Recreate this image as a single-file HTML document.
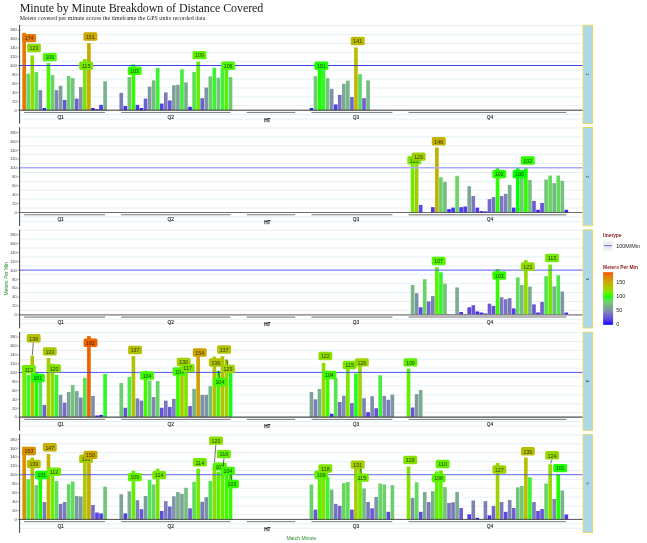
<!DOCTYPE html><html><head><meta charset="utf-8"><title>Minute by Minute Breakdown of Distance Covered</title>
<style>html,body{margin:0;padding:0;background:#fff}svg{display:block}.sans{font-family:"Liberation Sans",sans-serif}.serif{font-family:"Liberation Serif",serif}</style></head><body>
<svg width="647" height="543" viewBox="0 0 647 543">
<rect width="647" height="543" fill="#fff"/>
<text class="serif" x="19.7" y="11.7" font-size="12" fill="#1a1a1a" textLength="243.6" lengthAdjust="spacing">Minute by Minute Breakdown of Distance Covered</text>
<text class="serif" x="19.7" y="20.2" font-size="5.9" fill="#222" textLength="185.6" lengthAdjust="spacing">Meters covered per minute across the timeframe the GPS units recorded data</text>
<text class="sans" transform="translate(8.3 278.8) rotate(-90)" text-anchor="middle" font-size="4.9" fill="#2e8b2e">Meters Per Min</text>
<text class="sans" x="301.4" y="539.5" text-anchor="middle" font-size="5" fill="#2e8b2e">Match Minute</text>
<g>
<line x1="19.6" x2="582.7" y1="119.10" y2="119.10" stroke="#dcecf4" stroke-width="0.8"/>
<line x1="19.6" x2="582.7" y1="114.65" y2="114.65" stroke="#dcecf4" stroke-width="0.8"/>
<line x1="19.6" x2="582.7" y1="105.75" y2="105.75" stroke="#dcecf4" stroke-width="0.8"/>
<line x1="19.6" x2="582.7" y1="96.85" y2="96.85" stroke="#dcecf4" stroke-width="0.8"/>
<line x1="19.6" x2="582.7" y1="87.95" y2="87.95" stroke="#dcecf4" stroke-width="0.8"/>
<line x1="19.6" x2="582.7" y1="79.05" y2="79.05" stroke="#dcecf4" stroke-width="0.8"/>
<line x1="19.6" x2="582.7" y1="70.15" y2="70.15" stroke="#dcecf4" stroke-width="0.8"/>
<line x1="19.6" x2="582.7" y1="61.25" y2="61.25" stroke="#dcecf4" stroke-width="0.8"/>
<line x1="19.6" x2="582.7" y1="52.35" y2="52.35" stroke="#dcecf4" stroke-width="0.8"/>
<line x1="19.6" x2="582.7" y1="43.45" y2="43.45" stroke="#dcecf4" stroke-width="0.8"/>
<line x1="19.6" x2="582.7" y1="34.55" y2="34.55" stroke="#dcecf4" stroke-width="0.8"/>
<line x1="19.6" x2="582.7" y1="25.65" y2="25.65" stroke="#dcecf4" stroke-width="0.8"/>
<rect x="22.35" y="32.77" width="3.64" height="77.43" fill="#e77900"/>
<rect x="26.40" y="73.71" width="3.64" height="36.49" fill="#64d860"/>
<rect x="30.44" y="55.47" width="3.64" height="54.73" fill="#92da00"/>
<rect x="34.49" y="71.93" width="3.64" height="38.27" fill="#5be154"/>
<rect x="38.53" y="90.18" width="3.64" height="20.02" fill="#7d88af"/>
<rect x="42.58" y="107.98" width="3.64" height="2.23" fill="#3621f6"/>
<rect x="46.63" y="63.03" width="3.64" height="47.17" fill="#50f600"/>
<rect x="50.67" y="75.05" width="3.64" height="35.16" fill="#69d268"/>
<rect x="54.72" y="90.18" width="3.64" height="20.02" fill="#7d88af"/>
<rect x="58.76" y="85.72" width="3.64" height="24.48" fill="#7d9e9c"/>
<rect x="62.81" y="99.97" width="3.64" height="10.23" fill="#6956d7"/>
<rect x="66.86" y="75.94" width="3.64" height="34.27" fill="#6cce6d"/>
<rect x="70.90" y="78.16" width="3.64" height="32.04" fill="#73c379"/>
<rect x="74.95" y="98.63" width="3.64" height="11.57" fill="#6e5dd2"/>
<rect x="78.99" y="87.06" width="3.64" height="23.14" fill="#7d98a2"/>
<rect x="83.04" y="59.02" width="3.64" height="51.18" fill="#7ae700"/>
<rect x="87.09" y="43.00" width="3.64" height="67.20" fill="#caa900"/>
<rect x="91.13" y="107.98" width="3.64" height="2.23" fill="#3621f6"/>
<rect x="95.18" y="109.31" width="3.64" height="0.89" fill="#2111fc"/>
<rect x="99.22" y="104.86" width="3.64" height="5.34" fill="#5139ea"/>
<rect x="103.27" y="81.28" width="3.64" height="28.93" fill="#79b488"/>
<rect x="119.45" y="92.84" width="3.64" height="17.36" fill="#7a7bba"/>
<rect x="123.50" y="105.97" width="3.64" height="4.23" fill="#4a31ee"/>
<rect x="127.55" y="77.05" width="3.64" height="33.15" fill="#70c873"/>
<rect x="131.59" y="64.37" width="3.64" height="45.84" fill="#38fa00"/>
<rect x="135.64" y="104.86" width="3.64" height="5.34" fill="#5139ea"/>
<rect x="139.68" y="107.98" width="3.64" height="2.23" fill="#3621f6"/>
<rect x="143.73" y="98.63" width="3.64" height="11.57" fill="#6e5dd2"/>
<rect x="147.78" y="86.62" width="3.64" height="23.59" fill="#7d9aa0"/>
<rect x="151.82" y="80.39" width="3.64" height="29.82" fill="#78b884"/>
<rect x="155.87" y="67.93" width="3.64" height="42.27" fill="#39f431"/>
<rect x="159.91" y="103.53" width="3.64" height="6.67" fill="#5941e5"/>
<rect x="163.96" y="92.40" width="3.64" height="17.80" fill="#7a7db9"/>
<rect x="168.01" y="100.41" width="3.64" height="9.79" fill="#6854d9"/>
<rect x="172.05" y="85.28" width="3.64" height="24.92" fill="#7da09a"/>
<rect x="176.10" y="84.84" width="3.64" height="25.37" fill="#7da398"/>
<rect x="180.14" y="69.26" width="3.64" height="40.94" fill="#47ee3f"/>
<rect x="184.19" y="82.39" width="3.64" height="27.81" fill="#7bae8d"/>
<rect x="188.24" y="106.86" width="3.64" height="3.34" fill="#422af2"/>
<rect x="192.28" y="71.93" width="3.64" height="38.27" fill="#5be154"/>
<rect x="196.33" y="61.70" width="3.64" height="48.51" fill="#60f100"/>
<rect x="200.37" y="98.19" width="3.64" height="12.02" fill="#6f60d0"/>
<rect x="204.42" y="87.50" width="3.64" height="22.70" fill="#7d96a4"/>
<rect x="208.47" y="76.38" width="3.64" height="33.82" fill="#6ecb6f"/>
<rect x="212.51" y="67.70" width="3.64" height="42.50" fill="#36f52e"/>
<rect x="216.56" y="77.72" width="3.64" height="32.48" fill="#72c577"/>
<rect x="220.60" y="69.04" width="3.64" height="41.16" fill="#45ef3d"/>
<rect x="224.65" y="63.03" width="3.64" height="47.17" fill="#50f600"/>
<rect x="228.70" y="77.05" width="3.64" height="33.15" fill="#70c873"/>
<rect x="309.62" y="107.98" width="3.64" height="2.23" fill="#3621f6"/>
<rect x="313.66" y="76.16" width="3.64" height="34.04" fill="#6dcd6e"/>
<rect x="317.71" y="65.25" width="4.10" height="44.95" fill="#1ffd00"/>
<rect x="321.75" y="67.48" width="3.64" height="42.72" fill="#33f62b"/>
<rect x="325.80" y="78.16" width="3.64" height="32.04" fill="#73c379"/>
<rect x="329.85" y="88.84" width="3.64" height="21.36" fill="#7d8faa"/>
<rect x="333.89" y="104.42" width="3.64" height="5.79" fill="#543ce8"/>
<rect x="337.94" y="94.85" width="3.64" height="15.35" fill="#7771c2"/>
<rect x="341.98" y="83.72" width="3.64" height="26.48" fill="#7ca894"/>
<rect x="346.03" y="80.61" width="3.64" height="29.59" fill="#78b785"/>
<rect x="350.08" y="97.07" width="3.64" height="13.13" fill="#7266cb"/>
<rect x="354.12" y="47.46" width="3.64" height="62.74" fill="#babb00"/>
<rect x="358.17" y="74.16" width="3.64" height="36.05" fill="#66d663"/>
<rect x="362.21" y="98.19" width="3.64" height="12.02" fill="#6f60d0"/>
<rect x="366.26" y="80.39" width="3.64" height="29.82" fill="#78b884"/>
<line x1="19.6" x2="582.7" y1="65.50" y2="65.50" stroke="#3843f2" stroke-width="1.0"/>
<line x1="19.6" x2="582.7" y1="110.20" y2="110.20" stroke="#2a2a2a" stroke-width="0.95"/>
<line x1="24.17" x2="105.09" y1="112.45" y2="112.45" stroke="#444" stroke-width="0.7"/>
<text class="sans" x="60.58" y="119.12" text-anchor="middle" font-size="4.8" fill="#1a1a1a" stroke="#1a1a1a" stroke-width="0.12">Q1</text>
<line x1="121.27" x2="230.52" y1="112.45" y2="112.45" stroke="#444" stroke-width="0.7"/>
<text class="sans" x="170.64" y="119.12" text-anchor="middle" font-size="4.8" fill="#1a1a1a" stroke="#1a1a1a" stroke-width="0.12">Q2</text>
<line x1="246.70" x2="295.25" y1="112.45" y2="112.45" stroke="#444" stroke-width="0.7"/>
<text class="sans" x="267.33" y="121.52" text-anchor="middle" font-size="4.8" fill="#1a1a1a" stroke="#1a1a1a" stroke-width="0.25">HT</text>
<line x1="311.44" x2="392.36" y1="112.45" y2="112.45" stroke="#444" stroke-width="0.7"/>
<text class="sans" x="355.94" y="119.12" text-anchor="middle" font-size="4.8" fill="#1a1a1a" stroke="#1a1a1a" stroke-width="0.12">Q3</text>
<line x1="408.54" x2="566.33" y1="112.45" y2="112.45" stroke="#444" stroke-width="0.7"/>
<text class="sans" x="489.86" y="119.12" text-anchor="middle" font-size="4.8" fill="#1a1a1a" stroke="#1a1a1a" stroke-width="0.12">Q4</text>
<rect x="22.25" y="33.90" width="13.9" height="8.4" rx="1.6" fill="#e77900"/>
<text class="sans" x="29.20" y="40.40" text-anchor="middle" font-size="5.9" textLength="8.8" lengthAdjust="spacingAndGlyphs" fill="#000" fill-opacity="0.72">174</text>
<rect x="27.00" y="43.75" width="13.9" height="8.4" rx="1.6" fill="#92da00"/>
<text class="sans" x="33.95" y="50.25" text-anchor="middle" font-size="5.9" textLength="8.8" lengthAdjust="spacingAndGlyphs" fill="#000" fill-opacity="0.72">123</text>
<rect x="42.85" y="52.95" width="13.9" height="8.4" rx="1.6" fill="#50f600"/>
<text class="sans" x="49.80" y="59.45" text-anchor="middle" font-size="5.9" textLength="8.8" lengthAdjust="spacingAndGlyphs" fill="#000" fill-opacity="0.72">106</text>
<rect x="79.15" y="61.55" width="13.9" height="8.4" rx="1.6" fill="#7ae700"/>
<text class="sans" x="86.10" y="68.05" text-anchor="middle" font-size="5.9" textLength="8.8" lengthAdjust="spacingAndGlyphs" fill="#000" fill-opacity="0.72">115</text>
<rect x="83.40" y="32.35" width="13.9" height="8.4" rx="1.6" fill="#caa900"/>
<text class="sans" x="90.35" y="38.85" text-anchor="middle" font-size="5.9" textLength="8.8" lengthAdjust="spacingAndGlyphs" fill="#000" fill-opacity="0.72">151</text>
<rect x="127.70" y="66.55" width="13.9" height="8.4" rx="1.6" fill="#38fa00"/>
<text class="sans" x="134.65" y="73.05" text-anchor="middle" font-size="5.9" textLength="8.8" lengthAdjust="spacingAndGlyphs" fill="#000" fill-opacity="0.72">103</text>
<rect x="192.55" y="50.95" width="13.9" height="8.4" rx="1.6" fill="#60f100"/>
<text class="sans" x="199.50" y="57.45" text-anchor="middle" font-size="5.9" textLength="8.8" lengthAdjust="spacingAndGlyphs" fill="#000" fill-opacity="0.72">109</text>
<rect x="221.20" y="61.55" width="13.9" height="8.4" rx="1.6" fill="#50f600"/>
<text class="sans" x="228.15" y="68.05" text-anchor="middle" font-size="5.9" textLength="8.8" lengthAdjust="spacingAndGlyphs" fill="#000" fill-opacity="0.72">106</text>
<rect x="314.35" y="61.55" width="13.9" height="8.4" rx="1.6" fill="#1ffd00"/>
<text class="sans" x="321.30" y="68.05" text-anchor="middle" font-size="5.9" textLength="8.8" lengthAdjust="spacingAndGlyphs" fill="#000" fill-opacity="0.72">101</text>
<rect x="350.80" y="36.85" width="13.9" height="8.4" rx="1.6" fill="#babb00"/>
<text class="sans" x="357.75" y="43.35" text-anchor="middle" font-size="5.9" textLength="8.8" lengthAdjust="spacingAndGlyphs" fill="#000" fill-opacity="0.72">141</text>
<line x1="19.6" x2="19.6" y1="24.90" y2="123.70" stroke="#2b2b2b" stroke-width="0.9"/>
<line x1="17.700000000000003" x2="19.6" y1="110.20" y2="110.20" stroke="#333" stroke-width="0.5"/>
<text class="sans" x="16.900000000000002" y="111.55" text-anchor="end" font-size="4.1" fill="#3d3d3d">0</text>
<line x1="17.700000000000003" x2="19.6" y1="101.30" y2="101.30" stroke="#333" stroke-width="0.5"/>
<text class="sans" x="16.900000000000002" y="102.65" text-anchor="end" font-size="4.1" fill="#3d3d3d">20</text>
<line x1="17.700000000000003" x2="19.6" y1="92.40" y2="92.40" stroke="#333" stroke-width="0.5"/>
<text class="sans" x="16.900000000000002" y="93.75" text-anchor="end" font-size="4.1" fill="#3d3d3d">40</text>
<line x1="17.700000000000003" x2="19.6" y1="83.50" y2="83.50" stroke="#333" stroke-width="0.5"/>
<text class="sans" x="16.900000000000002" y="84.85" text-anchor="end" font-size="4.1" fill="#3d3d3d">60</text>
<line x1="17.700000000000003" x2="19.6" y1="74.60" y2="74.60" stroke="#333" stroke-width="0.5"/>
<text class="sans" x="16.900000000000002" y="75.95" text-anchor="end" font-size="4.1" fill="#3d3d3d">80</text>
<line x1="17.700000000000003" x2="19.6" y1="65.70" y2="65.70" stroke="#333" stroke-width="0.5"/>
<text class="sans" x="16.900000000000002" y="67.05" text-anchor="end" font-size="4.1" fill="#3d3d3d">100</text>
<line x1="17.700000000000003" x2="19.6" y1="56.80" y2="56.80" stroke="#333" stroke-width="0.5"/>
<text class="sans" x="16.900000000000002" y="58.15" text-anchor="end" font-size="4.1" fill="#3d3d3d">120</text>
<line x1="17.700000000000003" x2="19.6" y1="47.90" y2="47.90" stroke="#333" stroke-width="0.5"/>
<text class="sans" x="16.900000000000002" y="49.25" text-anchor="end" font-size="4.1" fill="#3d3d3d">140</text>
<line x1="17.700000000000003" x2="19.6" y1="39.00" y2="39.00" stroke="#333" stroke-width="0.5"/>
<text class="sans" x="16.900000000000002" y="40.35" text-anchor="end" font-size="4.1" fill="#3d3d3d">160</text>
<line x1="17.700000000000003" x2="19.6" y1="30.10" y2="30.10" stroke="#333" stroke-width="0.5"/>
<text class="sans" x="16.900000000000002" y="31.45" text-anchor="end" font-size="4.1" fill="#3d3d3d">180</text>
<rect x="583.1" y="25.20" width="9.6" height="98.20" fill="#add8e6" stroke="#ecd352" stroke-width="0.85"/>
<text class="sans" transform="translate(586.4 74.30) rotate(90)" text-anchor="middle" font-size="3.6" fill="#000">1</text>
</g>
<g>
<line x1="19.6" x2="582.7" y1="221.40" y2="221.40" stroke="#dcecf4" stroke-width="0.8"/>
<line x1="19.6" x2="582.7" y1="216.95" y2="216.95" stroke="#dcecf4" stroke-width="0.8"/>
<line x1="19.6" x2="582.7" y1="208.05" y2="208.05" stroke="#dcecf4" stroke-width="0.8"/>
<line x1="19.6" x2="582.7" y1="199.15" y2="199.15" stroke="#dcecf4" stroke-width="0.8"/>
<line x1="19.6" x2="582.7" y1="190.25" y2="190.25" stroke="#dcecf4" stroke-width="0.8"/>
<line x1="19.6" x2="582.7" y1="181.35" y2="181.35" stroke="#dcecf4" stroke-width="0.8"/>
<line x1="19.6" x2="582.7" y1="172.45" y2="172.45" stroke="#dcecf4" stroke-width="0.8"/>
<line x1="19.6" x2="582.7" y1="163.55" y2="163.55" stroke="#dcecf4" stroke-width="0.8"/>
<line x1="19.6" x2="582.7" y1="154.65" y2="154.65" stroke="#dcecf4" stroke-width="0.8"/>
<line x1="19.6" x2="582.7" y1="145.75" y2="145.75" stroke="#dcecf4" stroke-width="0.8"/>
<line x1="19.6" x2="582.7" y1="136.85" y2="136.85" stroke="#dcecf4" stroke-width="0.8"/>
<line x1="19.6" x2="582.7" y1="127.95" y2="127.95" stroke="#dcecf4" stroke-width="0.8"/>
<rect x="410.77" y="162.22" width="3.64" height="50.29" fill="#72ea00"/>
<rect x="414.81" y="155.09" width="3.64" height="57.41" fill="#a1d000"/>
<rect x="418.86" y="204.94" width="3.64" height="7.57" fill="#5e47e1"/>
<rect x="431.00" y="207.16" width="3.64" height="5.34" fill="#5139ea"/>
<rect x="435.04" y="147.53" width="3.64" height="64.97" fill="#c2b200"/>
<rect x="439.09" y="177.34" width="3.64" height="35.16" fill="#69d268"/>
<rect x="443.13" y="181.79" width="3.64" height="30.71" fill="#76bc80"/>
<rect x="447.18" y="209.16" width="3.64" height="3.34" fill="#422af2"/>
<rect x="451.23" y="207.60" width="3.64" height="4.90" fill="#4e36ec"/>
<rect x="455.27" y="175.79" width="3.64" height="36.71" fill="#63d95f"/>
<rect x="459.32" y="207.16" width="3.64" height="5.34" fill="#5139ea"/>
<rect x="463.36" y="206.49" width="3.64" height="6.01" fill="#563de8"/>
<rect x="467.41" y="186.25" width="3.64" height="26.25" fill="#7ca795"/>
<rect x="471.46" y="196.03" width="3.64" height="16.46" fill="#7977be"/>
<rect x="475.50" y="207.60" width="3.64" height="4.90" fill="#4e36ec"/>
<rect x="479.55" y="211.16" width="3.64" height="1.33" fill="#2a17fa"/>
<rect x="483.59" y="211.39" width="3.64" height="1.11" fill="#2614fb"/>
<rect x="487.64" y="199.15" width="3.64" height="13.35" fill="#7267cb"/>
<rect x="491.69" y="197.15" width="3.64" height="15.35" fill="#7771c2"/>
<rect x="495.73" y="167.11" width="3.64" height="45.39" fill="#2efc00"/>
<rect x="499.78" y="196.03" width="3.64" height="16.46" fill="#7977be"/>
<rect x="503.82" y="193.81" width="3.64" height="18.69" fill="#7b82b5"/>
<rect x="507.87" y="184.91" width="3.64" height="27.59" fill="#7bad8e"/>
<rect x="511.92" y="207.60" width="3.64" height="4.90" fill="#4e36ec"/>
<rect x="515.96" y="168.00" width="3.64" height="44.50" fill="#00ff00"/>
<rect x="520.01" y="177.79" width="3.64" height="34.71" fill="#6bd06b"/>
<rect x="524.05" y="167.11" width="3.64" height="45.39" fill="#2efc00"/>
<rect x="528.10" y="180.01" width="3.64" height="32.48" fill="#72c577"/>
<rect x="532.15" y="200.93" width="3.64" height="11.57" fill="#6e5dd2"/>
<rect x="536.19" y="209.83" width="3.64" height="2.67" fill="#3b25f5"/>
<rect x="540.24" y="202.93" width="3.64" height="9.57" fill="#6752da"/>
<rect x="544.28" y="179.57" width="3.64" height="32.93" fill="#70c774"/>
<rect x="548.33" y="175.56" width="3.64" height="36.94" fill="#62da5d"/>
<rect x="552.38" y="183.13" width="3.64" height="29.37" fill="#78b686"/>
<rect x="556.42" y="175.56" width="3.64" height="36.94" fill="#62da5d"/>
<rect x="560.47" y="180.91" width="3.64" height="31.59" fill="#74c17b"/>
<rect x="564.51" y="209.83" width="3.64" height="2.67" fill="#3b25f5"/>
<line x1="19.6" x2="582.7" y1="167.80" y2="167.80" stroke="#a8acfb" stroke-width="1.5"/>
<line x1="19.6" x2="582.7" y1="212.50" y2="212.50" stroke="#2a2a30" stroke-width="0.7"/>
<line x1="24.17" x2="105.09" y1="214.75" y2="214.75" stroke="#555" stroke-width="0.8"/>
<text class="sans" x="60.58" y="221.42" text-anchor="middle" font-size="4.8" fill="#1a1a1a" stroke="#1a1a1a" stroke-width="0.12">Q1</text>
<line x1="121.27" x2="230.52" y1="214.75" y2="214.75" stroke="#555" stroke-width="0.8"/>
<text class="sans" x="170.64" y="221.42" text-anchor="middle" font-size="4.8" fill="#1a1a1a" stroke="#1a1a1a" stroke-width="0.12">Q2</text>
<line x1="246.70" x2="295.25" y1="214.75" y2="214.75" stroke="#555" stroke-width="0.8"/>
<text class="sans" x="267.33" y="223.82" text-anchor="middle" font-size="4.8" fill="#1a1a1a" stroke="#1a1a1a" stroke-width="0.25">HT</text>
<line x1="311.44" x2="392.36" y1="214.75" y2="214.75" stroke="#555" stroke-width="0.8"/>
<text class="sans" x="355.94" y="221.42" text-anchor="middle" font-size="4.8" fill="#1a1a1a" stroke="#1a1a1a" stroke-width="0.12">Q3</text>
<line x1="408.54" x2="566.33" y1="214.75" y2="214.75" stroke="#9a9a9a" stroke-width="1.5"/>
<text class="sans" x="489.86" y="221.42" text-anchor="middle" font-size="4.8" fill="#1a1a1a" stroke="#1a1a1a" stroke-width="0.12">Q4</text>
<rect x="407.30" y="156.05" width="13.9" height="8.4" rx="1.6" fill="#7ae700"/>
<text class="sans" x="414.25" y="162.55" text-anchor="middle" font-size="5.9" textLength="8.8" lengthAdjust="spacingAndGlyphs" fill="#000" fill-opacity="0.72">115</text>
<rect x="411.65" y="152.45" width="13.9" height="8.4" rx="1.6" fill="#a1d000"/>
<text class="sans" x="418.60" y="158.95" text-anchor="middle" font-size="5.9" textLength="8.8" lengthAdjust="spacingAndGlyphs" fill="#000" fill-opacity="0.72">129</text>
<rect x="431.80" y="137.10" width="13.9" height="8.4" rx="1.6" fill="#c2b200"/>
<text class="sans" x="438.75" y="143.60" text-anchor="middle" font-size="5.9" textLength="8.8" lengthAdjust="spacingAndGlyphs" fill="#000" fill-opacity="0.72">146</text>
<rect x="492.30" y="169.95" width="13.9" height="8.4" rx="1.6" fill="#2efc00"/>
<text class="sans" x="499.25" y="176.45" text-anchor="middle" font-size="5.9" textLength="8.8" lengthAdjust="spacingAndGlyphs" fill="#000" fill-opacity="0.72">102</text>
<rect x="512.70" y="169.95" width="13.9" height="8.4" rx="1.6" fill="#00ff00"/>
<text class="sans" x="519.65" y="176.45" text-anchor="middle" font-size="5.9" textLength="8.8" lengthAdjust="spacingAndGlyphs" fill="#000" fill-opacity="0.72">100</text>
<rect x="520.80" y="156.35" width="13.9" height="8.4" rx="1.6" fill="#2efc00"/>
<text class="sans" x="527.75" y="162.85" text-anchor="middle" font-size="5.9" textLength="8.8" lengthAdjust="spacingAndGlyphs" fill="#000" fill-opacity="0.72">102</text>
<line x1="19.6" x2="19.6" y1="127.20" y2="226.00" stroke="#2b2b2b" stroke-width="0.9"/>
<line x1="17.700000000000003" x2="19.6" y1="212.50" y2="212.50" stroke="#333" stroke-width="0.5"/>
<text class="sans" x="16.900000000000002" y="213.85" text-anchor="end" font-size="4.1" fill="#3d3d3d">0</text>
<line x1="17.700000000000003" x2="19.6" y1="203.60" y2="203.60" stroke="#333" stroke-width="0.5"/>
<text class="sans" x="16.900000000000002" y="204.95" text-anchor="end" font-size="4.1" fill="#3d3d3d">20</text>
<line x1="17.700000000000003" x2="19.6" y1="194.70" y2="194.70" stroke="#333" stroke-width="0.5"/>
<text class="sans" x="16.900000000000002" y="196.05" text-anchor="end" font-size="4.1" fill="#3d3d3d">40</text>
<line x1="17.700000000000003" x2="19.6" y1="185.80" y2="185.80" stroke="#333" stroke-width="0.5"/>
<text class="sans" x="16.900000000000002" y="187.15" text-anchor="end" font-size="4.1" fill="#3d3d3d">60</text>
<line x1="17.700000000000003" x2="19.6" y1="176.90" y2="176.90" stroke="#333" stroke-width="0.5"/>
<text class="sans" x="16.900000000000002" y="178.25" text-anchor="end" font-size="4.1" fill="#3d3d3d">80</text>
<line x1="17.700000000000003" x2="19.6" y1="168.00" y2="168.00" stroke="#333" stroke-width="0.5"/>
<text class="sans" x="16.900000000000002" y="169.35" text-anchor="end" font-size="4.1" fill="#3d3d3d">100</text>
<line x1="17.700000000000003" x2="19.6" y1="159.10" y2="159.10" stroke="#333" stroke-width="0.5"/>
<text class="sans" x="16.900000000000002" y="160.45" text-anchor="end" font-size="4.1" fill="#3d3d3d">120</text>
<line x1="17.700000000000003" x2="19.6" y1="150.20" y2="150.20" stroke="#333" stroke-width="0.5"/>
<text class="sans" x="16.900000000000002" y="151.55" text-anchor="end" font-size="4.1" fill="#3d3d3d">140</text>
<line x1="17.700000000000003" x2="19.6" y1="141.30" y2="141.30" stroke="#333" stroke-width="0.5"/>
<text class="sans" x="16.900000000000002" y="142.65" text-anchor="end" font-size="4.1" fill="#3d3d3d">160</text>
<line x1="17.700000000000003" x2="19.6" y1="132.40" y2="132.40" stroke="#333" stroke-width="0.5"/>
<text class="sans" x="16.900000000000002" y="133.75" text-anchor="end" font-size="4.1" fill="#3d3d3d">180</text>
<rect x="583.1" y="127.50" width="9.6" height="98.20" fill="#add8e6" stroke="#ecd352" stroke-width="0.85"/>
<text class="sans" transform="translate(586.4 176.60) rotate(90)" text-anchor="middle" font-size="3.6" fill="#000">2</text>
</g>
<g>
<line x1="19.6" x2="582.7" y1="323.70" y2="323.70" stroke="#dcecf4" stroke-width="0.8"/>
<line x1="19.6" x2="582.7" y1="319.25" y2="319.25" stroke="#dcecf4" stroke-width="0.8"/>
<line x1="19.6" x2="582.7" y1="310.35" y2="310.35" stroke="#dcecf4" stroke-width="0.8"/>
<line x1="19.6" x2="582.7" y1="301.45" y2="301.45" stroke="#dcecf4" stroke-width="0.8"/>
<line x1="19.6" x2="582.7" y1="292.55" y2="292.55" stroke="#dcecf4" stroke-width="0.8"/>
<line x1="19.6" x2="582.7" y1="283.65" y2="283.65" stroke="#dcecf4" stroke-width="0.8"/>
<line x1="19.6" x2="582.7" y1="274.75" y2="274.75" stroke="#dcecf4" stroke-width="0.8"/>
<line x1="19.6" x2="582.7" y1="265.85" y2="265.85" stroke="#dcecf4" stroke-width="0.8"/>
<line x1="19.6" x2="582.7" y1="256.95" y2="256.95" stroke="#dcecf4" stroke-width="0.8"/>
<line x1="19.6" x2="582.7" y1="248.05" y2="248.05" stroke="#dcecf4" stroke-width="0.8"/>
<line x1="19.6" x2="582.7" y1="239.15" y2="239.15" stroke="#dcecf4" stroke-width="0.8"/>
<line x1="19.6" x2="582.7" y1="230.25" y2="230.25" stroke="#dcecf4" stroke-width="0.8"/>
<rect x="410.77" y="284.99" width="3.64" height="29.82" fill="#78b884"/>
<rect x="414.81" y="293.22" width="3.64" height="21.58" fill="#7d90a9"/>
<rect x="418.86" y="307.24" width="3.64" height="7.57" fill="#5e47e1"/>
<rect x="422.90" y="279.20" width="3.64" height="35.60" fill="#67d465"/>
<rect x="426.95" y="301.45" width="3.64" height="13.35" fill="#7267cb"/>
<rect x="431.00" y="296.11" width="3.64" height="18.69" fill="#7b82b5"/>
<rect x="435.04" y="267.19" width="3.64" height="47.62" fill="#56f400"/>
<rect x="439.09" y="272.30" width="3.64" height="42.50" fill="#36f52e"/>
<rect x="443.13" y="283.65" width="3.64" height="31.15" fill="#75bf7d"/>
<rect x="447.18" y="314.36" width="3.64" height="0.45" fill="#1509fd"/>
<rect x="455.27" y="287.43" width="3.64" height="27.37" fill="#7bac8f"/>
<rect x="459.32" y="312.13" width="3.64" height="2.67" fill="#3b25f5"/>
<rect x="463.36" y="314.36" width="3.64" height="0.45" fill="#1509fd"/>
<rect x="467.41" y="307.24" width="3.64" height="7.57" fill="#5e47e1"/>
<rect x="471.46" y="305.23" width="3.64" height="9.57" fill="#6752da"/>
<rect x="475.50" y="311.46" width="3.64" height="3.34" fill="#422af2"/>
<rect x="479.55" y="312.57" width="3.64" height="2.23" fill="#3621f6"/>
<rect x="483.59" y="313.47" width="3.64" height="1.33" fill="#2a17fa"/>
<rect x="487.64" y="303.68" width="3.64" height="11.12" fill="#6c5bd3"/>
<rect x="491.69" y="305.90" width="3.64" height="8.90" fill="#644fdc"/>
<rect x="495.73" y="268.97" width="3.64" height="45.84" fill="#38fa00"/>
<rect x="499.78" y="297.22" width="3.64" height="17.58" fill="#7a7cb9"/>
<rect x="503.82" y="299.23" width="3.64" height="15.58" fill="#7772c2"/>
<rect x="507.87" y="298.11" width="3.64" height="16.69" fill="#7978bd"/>
<rect x="511.92" y="308.35" width="3.64" height="6.45" fill="#5840e6"/>
<rect x="515.96" y="277.42" width="3.64" height="37.38" fill="#5fdd5a"/>
<rect x="520.01" y="284.99" width="3.64" height="29.82" fill="#78b884"/>
<rect x="524.05" y="260.06" width="3.64" height="54.73" fill="#92da00"/>
<rect x="528.10" y="286.54" width="3.64" height="28.26" fill="#7ab18b"/>
<rect x="532.15" y="304.34" width="3.64" height="10.46" fill="#6a57d6"/>
<rect x="536.19" y="312.57" width="3.64" height="2.23" fill="#3621f6"/>
<rect x="540.24" y="301.90" width="3.64" height="12.90" fill="#7164cc"/>
<rect x="544.28" y="276.09" width="3.64" height="38.72" fill="#58e351"/>
<rect x="548.33" y="264.51" width="3.64" height="50.29" fill="#72ea00"/>
<rect x="552.38" y="286.32" width="3.64" height="28.48" fill="#7ab28a"/>
<rect x="556.42" y="275.19" width="3.64" height="39.61" fill="#52e74a"/>
<rect x="560.47" y="291.44" width="3.64" height="23.36" fill="#7d99a1"/>
<rect x="564.51" y="312.57" width="3.64" height="2.23" fill="#3621f6"/>
<line x1="19.6" x2="582.7" y1="270.10" y2="270.10" stroke="#555df6" stroke-width="1.0"/>
<line x1="19.6" x2="582.7" y1="314.80" y2="314.80" stroke="#777" stroke-width="1.3"/>
<line x1="24.17" x2="105.09" y1="317.05" y2="317.05" stroke="#8a8a8a" stroke-width="1.2"/>
<text class="sans" x="60.58" y="323.72" text-anchor="middle" font-size="4.8" fill="#1a1a1a" stroke="#1a1a1a" stroke-width="0.12">Q1</text>
<line x1="121.27" x2="230.52" y1="317.05" y2="317.05" stroke="#8a8a8a" stroke-width="1.2"/>
<text class="sans" x="170.64" y="323.72" text-anchor="middle" font-size="4.8" fill="#1a1a1a" stroke="#1a1a1a" stroke-width="0.12">Q2</text>
<line x1="246.70" x2="295.25" y1="317.05" y2="317.05" stroke="#8a8a8a" stroke-width="1.2"/>
<text class="sans" x="267.33" y="326.12" text-anchor="middle" font-size="4.8" fill="#1a1a1a" stroke="#1a1a1a" stroke-width="0.25">HT</text>
<line x1="311.44" x2="392.36" y1="317.05" y2="317.05" stroke="#8a8a8a" stroke-width="1.2"/>
<text class="sans" x="355.94" y="323.72" text-anchor="middle" font-size="4.8" fill="#1a1a1a" stroke="#1a1a1a" stroke-width="0.12">Q3</text>
<line x1="408.54" x2="566.33" y1="317.05" y2="317.05" stroke="#a0a0a0" stroke-width="1.5"/>
<text class="sans" x="489.86" y="323.72" text-anchor="middle" font-size="4.8" fill="#1a1a1a" stroke="#1a1a1a" stroke-width="0.12">Q4</text>
<rect x="431.70" y="256.75" width="13.9" height="8.4" rx="1.6" fill="#56f400"/>
<text class="sans" x="438.65" y="263.25" text-anchor="middle" font-size="5.9" textLength="8.8" lengthAdjust="spacingAndGlyphs" fill="#000" fill-opacity="0.72">107</text>
<rect x="492.30" y="271.30" width="13.9" height="8.4" rx="1.6" fill="#38fa00"/>
<text class="sans" x="499.25" y="277.80" text-anchor="middle" font-size="5.9" textLength="8.8" lengthAdjust="spacingAndGlyphs" fill="#000" fill-opacity="0.72">103</text>
<rect x="520.80" y="262.30" width="13.9" height="8.4" rx="1.6" fill="#92da00"/>
<text class="sans" x="527.75" y="268.80" text-anchor="middle" font-size="5.9" textLength="8.8" lengthAdjust="spacingAndGlyphs" fill="#000" fill-opacity="0.72">123</text>
<rect x="545.10" y="253.75" width="13.9" height="8.4" rx="1.6" fill="#72ea00"/>
<text class="sans" x="552.05" y="260.25" text-anchor="middle" font-size="5.9" textLength="8.8" lengthAdjust="spacingAndGlyphs" fill="#000" fill-opacity="0.72">113</text>
<line x1="19.6" x2="19.6" y1="229.50" y2="328.30" stroke="#2b2b2b" stroke-width="0.9"/>
<line x1="17.700000000000003" x2="19.6" y1="314.80" y2="314.80" stroke="#333" stroke-width="0.5"/>
<text class="sans" x="16.900000000000002" y="316.15" text-anchor="end" font-size="4.1" fill="#3d3d3d">0</text>
<line x1="17.700000000000003" x2="19.6" y1="305.90" y2="305.90" stroke="#333" stroke-width="0.5"/>
<text class="sans" x="16.900000000000002" y="307.25" text-anchor="end" font-size="4.1" fill="#3d3d3d">20</text>
<line x1="17.700000000000003" x2="19.6" y1="297.00" y2="297.00" stroke="#333" stroke-width="0.5"/>
<text class="sans" x="16.900000000000002" y="298.35" text-anchor="end" font-size="4.1" fill="#3d3d3d">40</text>
<line x1="17.700000000000003" x2="19.6" y1="288.10" y2="288.10" stroke="#333" stroke-width="0.5"/>
<text class="sans" x="16.900000000000002" y="289.45" text-anchor="end" font-size="4.1" fill="#3d3d3d">60</text>
<line x1="17.700000000000003" x2="19.6" y1="279.20" y2="279.20" stroke="#333" stroke-width="0.5"/>
<text class="sans" x="16.900000000000002" y="280.55" text-anchor="end" font-size="4.1" fill="#3d3d3d">80</text>
<line x1="17.700000000000003" x2="19.6" y1="270.30" y2="270.30" stroke="#333" stroke-width="0.5"/>
<text class="sans" x="16.900000000000002" y="271.65" text-anchor="end" font-size="4.1" fill="#3d3d3d">100</text>
<line x1="17.700000000000003" x2="19.6" y1="261.40" y2="261.40" stroke="#333" stroke-width="0.5"/>
<text class="sans" x="16.900000000000002" y="262.75" text-anchor="end" font-size="4.1" fill="#3d3d3d">120</text>
<line x1="17.700000000000003" x2="19.6" y1="252.50" y2="252.50" stroke="#333" stroke-width="0.5"/>
<text class="sans" x="16.900000000000002" y="253.85" text-anchor="end" font-size="4.1" fill="#3d3d3d">140</text>
<line x1="17.700000000000003" x2="19.6" y1="243.60" y2="243.60" stroke="#333" stroke-width="0.5"/>
<text class="sans" x="16.900000000000002" y="244.95" text-anchor="end" font-size="4.1" fill="#3d3d3d">160</text>
<line x1="17.700000000000003" x2="19.6" y1="234.70" y2="234.70" stroke="#333" stroke-width="0.5"/>
<text class="sans" x="16.900000000000002" y="236.05" text-anchor="end" font-size="4.1" fill="#3d3d3d">180</text>
<rect x="583.1" y="229.80" width="9.6" height="98.20" fill="#add8e6" stroke="#ecd352" stroke-width="0.85"/>
<text class="sans" transform="translate(586.4 278.90) rotate(90)" text-anchor="middle" font-size="3.6" fill="#000">3</text>
</g>
<g>
<line x1="19.6" x2="582.7" y1="426.00" y2="426.00" stroke="#dcecf4" stroke-width="0.8"/>
<line x1="19.6" x2="582.7" y1="421.55" y2="421.55" stroke="#dcecf4" stroke-width="0.8"/>
<line x1="19.6" x2="582.7" y1="412.65" y2="412.65" stroke="#dcecf4" stroke-width="0.8"/>
<line x1="19.6" x2="582.7" y1="403.75" y2="403.75" stroke="#dcecf4" stroke-width="0.8"/>
<line x1="19.6" x2="582.7" y1="394.85" y2="394.85" stroke="#dcecf4" stroke-width="0.8"/>
<line x1="19.6" x2="582.7" y1="385.95" y2="385.95" stroke="#dcecf4" stroke-width="0.8"/>
<line x1="19.6" x2="582.7" y1="377.05" y2="377.05" stroke="#dcecf4" stroke-width="0.8"/>
<line x1="19.6" x2="582.7" y1="368.15" y2="368.15" stroke="#dcecf4" stroke-width="0.8"/>
<line x1="19.6" x2="582.7" y1="359.25" y2="359.25" stroke="#dcecf4" stroke-width="0.8"/>
<line x1="19.6" x2="582.7" y1="350.35" y2="350.35" stroke="#dcecf4" stroke-width="0.8"/>
<line x1="19.6" x2="582.7" y1="341.45" y2="341.45" stroke="#dcecf4" stroke-width="0.8"/>
<line x1="19.6" x2="582.7" y1="332.55" y2="332.55" stroke="#dcecf4" stroke-width="0.8"/>
<rect x="22.35" y="366.81" width="3.64" height="50.29" fill="#72ea00"/>
<rect x="26.40" y="374.82" width="3.64" height="42.27" fill="#39f431"/>
<rect x="30.44" y="355.69" width="3.64" height="61.41" fill="#b4c100"/>
<rect x="34.49" y="372.15" width="3.64" height="44.95" fill="#1ffd00"/>
<rect x="38.53" y="379.27" width="3.64" height="37.83" fill="#5ddf57"/>
<rect x="42.58" y="405.08" width="3.64" height="12.02" fill="#6f60d0"/>
<rect x="46.63" y="357.91" width="3.64" height="59.19" fill="#aac900"/>
<rect x="50.67" y="363.70" width="3.64" height="53.40" fill="#8adf00"/>
<rect x="54.72" y="374.82" width="3.64" height="42.27" fill="#39f431"/>
<rect x="58.76" y="394.85" width="3.64" height="22.25" fill="#7d93a6"/>
<rect x="62.81" y="402.64" width="3.64" height="14.46" fill="#756cc6"/>
<rect x="66.86" y="391.96" width="3.64" height="25.14" fill="#7da299"/>
<rect x="70.90" y="385.06" width="3.64" height="32.04" fill="#73c379"/>
<rect x="74.95" y="391.07" width="3.64" height="26.03" fill="#7ca696"/>
<rect x="78.99" y="397.52" width="3.64" height="19.58" fill="#7c86b1"/>
<rect x="83.04" y="377.94" width="3.64" height="39.16" fill="#55e54e"/>
<rect x="87.09" y="336.11" width="3.64" height="80.99" fill="#ef6400"/>
<rect x="91.13" y="395.96" width="3.64" height="21.14" fill="#7d8eab"/>
<rect x="95.18" y="415.54" width="3.64" height="1.56" fill="#2d1af9"/>
<rect x="99.22" y="414.87" width="3.64" height="2.23" fill="#3621f6"/>
<rect x="103.27" y="373.93" width="3.64" height="43.16" fill="#2cf925"/>
<rect x="119.45" y="383.06" width="3.64" height="34.04" fill="#6dcd6e"/>
<rect x="123.50" y="407.75" width="3.64" height="9.35" fill="#6651da"/>
<rect x="127.55" y="376.83" width="3.64" height="40.27" fill="#4deb45"/>
<rect x="131.59" y="356.13" width="3.64" height="60.97" fill="#b2c200"/>
<rect x="135.64" y="398.41" width="3.64" height="18.69" fill="#7b82b5"/>
<rect x="139.68" y="400.63" width="3.64" height="16.46" fill="#7977be"/>
<rect x="143.73" y="370.82" width="3.64" height="46.28" fill="#41f900"/>
<rect x="147.78" y="380.61" width="3.64" height="36.49" fill="#64d860"/>
<rect x="151.82" y="397.07" width="3.64" height="20.02" fill="#7d88af"/>
<rect x="155.87" y="381.05" width="3.64" height="36.05" fill="#66d663"/>
<rect x="159.91" y="407.75" width="3.64" height="9.35" fill="#6651da"/>
<rect x="163.96" y="400.63" width="3.64" height="16.46" fill="#7977be"/>
<rect x="168.01" y="406.86" width="3.64" height="10.23" fill="#6956d7"/>
<rect x="172.05" y="398.85" width="3.64" height="18.25" fill="#7b80b7"/>
<rect x="176.10" y="370.82" width="3.64" height="46.28" fill="#41f900"/>
<rect x="180.14" y="359.25" width="3.64" height="57.85" fill="#a4ce00"/>
<rect x="184.19" y="365.03" width="3.64" height="52.06" fill="#81e400"/>
<rect x="188.24" y="405.97" width="3.64" height="11.12" fill="#6c5bd3"/>
<rect x="192.28" y="388.84" width="3.64" height="28.26" fill="#7ab18b"/>
<rect x="196.33" y="348.57" width="3.64" height="68.53" fill="#cea300"/>
<rect x="200.37" y="394.85" width="3.64" height="22.25" fill="#7d93a6"/>
<rect x="204.42" y="394.85" width="3.64" height="22.25" fill="#7d93a6"/>
<rect x="208.47" y="386.17" width="3.64" height="30.93" fill="#75bd7f"/>
<rect x="212.51" y="356.58" width="3.64" height="60.52" fill="#b0c400"/>
<rect x="216.56" y="370.82" width="3.64" height="46.28" fill="#41f900"/>
<rect x="220.60" y="356.13" width="3.64" height="60.97" fill="#b2c200"/>
<rect x="224.65" y="359.69" width="3.64" height="57.41" fill="#a1d000"/>
<rect x="228.70" y="373.04" width="3.64" height="44.05" fill="#17fd12"/>
<rect x="309.62" y="391.96" width="3.64" height="25.14" fill="#7da299"/>
<rect x="313.66" y="399.30" width="3.64" height="17.80" fill="#7a7db9"/>
<rect x="317.71" y="388.84" width="3.64" height="28.26" fill="#7ab18b"/>
<rect x="321.75" y="362.81" width="3.64" height="54.29" fill="#90dc00"/>
<rect x="325.80" y="370.82" width="3.64" height="46.28" fill="#41f900"/>
<rect x="329.85" y="413.76" width="3.64" height="3.34" fill="#422af2"/>
<rect x="333.89" y="377.94" width="3.64" height="39.16" fill="#55e54e"/>
<rect x="337.94" y="401.97" width="3.64" height="15.13" fill="#7670c3"/>
<rect x="341.98" y="395.74" width="3.64" height="21.36" fill="#7d8faa"/>
<rect x="346.03" y="365.92" width="3.64" height="51.18" fill="#7ae700"/>
<rect x="350.08" y="403.08" width="3.64" height="14.02" fill="#746ac8"/>
<rect x="354.12" y="373.49" width="3.64" height="43.61" fill="#23fb1d"/>
<rect x="358.17" y="361.03" width="3.64" height="56.07" fill="#9ad500"/>
<rect x="362.21" y="398.19" width="3.64" height="18.91" fill="#7c83b4"/>
<rect x="366.26" y="412.20" width="3.64" height="4.90" fill="#4e36ec"/>
<rect x="370.31" y="396.18" width="3.64" height="20.91" fill="#7d8dac"/>
<rect x="374.35" y="408.20" width="3.64" height="8.90" fill="#644fdc"/>
<rect x="378.40" y="375.27" width="3.64" height="41.83" fill="#3ff236"/>
<rect x="382.44" y="395.96" width="3.64" height="21.14" fill="#7d8eab"/>
<rect x="386.49" y="399.74" width="3.64" height="17.36" fill="#7a7bba"/>
<rect x="390.54" y="394.63" width="3.64" height="22.47" fill="#7d95a5"/>
<rect x="406.72" y="368.59" width="3.64" height="48.51" fill="#60f100"/>
<rect x="410.77" y="407.53" width="3.64" height="9.57" fill="#6752da"/>
<rect x="414.81" y="394.18" width="3.64" height="22.92" fill="#7d97a3"/>
<rect x="418.86" y="389.95" width="3.64" height="27.14" fill="#7bab90"/>
<line x1="19.6" x2="582.7" y1="372.40" y2="372.40" stroke="#3540f2" stroke-width="0.9"/>
<line x1="19.6" x2="582.7" y1="417.10" y2="417.10" stroke="#4a4a4a" stroke-width="1.1"/>
<line x1="24.17" x2="105.09" y1="419.35" y2="419.35" stroke="#444" stroke-width="0.75"/>
<text class="sans" x="60.58" y="426.02" text-anchor="middle" font-size="4.8" fill="#1a1a1a" stroke="#1a1a1a" stroke-width="0.12">Q1</text>
<line x1="121.27" x2="230.52" y1="419.35" y2="419.35" stroke="#444" stroke-width="0.75"/>
<text class="sans" x="170.64" y="426.02" text-anchor="middle" font-size="4.8" fill="#1a1a1a" stroke="#1a1a1a" stroke-width="0.12">Q2</text>
<line x1="246.70" x2="295.25" y1="419.35" y2="419.35" stroke="#444" stroke-width="0.75"/>
<text class="sans" x="267.33" y="428.42" text-anchor="middle" font-size="4.8" fill="#1a1a1a" stroke="#1a1a1a" stroke-width="0.25">HT</text>
<line x1="311.44" x2="392.36" y1="419.35" y2="419.35" stroke="#444" stroke-width="0.75"/>
<text class="sans" x="355.94" y="426.02" text-anchor="middle" font-size="4.8" fill="#1a1a1a" stroke="#1a1a1a" stroke-width="0.12">Q3</text>
<line x1="408.54" x2="566.33" y1="419.35" y2="419.35" stroke="#444" stroke-width="0.75"/>
<text class="sans" x="489.86" y="426.02" text-anchor="middle" font-size="4.8" fill="#1a1a1a" stroke="#1a1a1a" stroke-width="0.12">Q4</text>
<line x1="33.4" y1="342.2" x2="32.3" y2="355.2" stroke="#111" stroke-width="0.6"/>
<rect x="26.75" y="334.10" width="13.9" height="8.4" rx="1.6" fill="#b4c100"/>
<text class="sans" x="33.70" y="340.60" text-anchor="middle" font-size="5.9" textLength="8.8" lengthAdjust="spacingAndGlyphs" fill="#000" fill-opacity="0.72">138</text>
<rect x="42.85" y="347.15" width="13.9" height="8.4" rx="1.6" fill="#aac900"/>
<text class="sans" x="49.80" y="353.65" text-anchor="middle" font-size="5.9" textLength="8.8" lengthAdjust="spacingAndGlyphs" fill="#000" fill-opacity="0.72">133</text>
<rect x="21.85" y="365.05" width="13.9" height="8.4" rx="1.6" fill="#72ea00"/>
<text class="sans" x="28.80" y="371.55" text-anchor="middle" font-size="5.9" textLength="8.8" lengthAdjust="spacingAndGlyphs" fill="#000" fill-opacity="0.72">113</text>
<rect x="30.90" y="373.75" width="13.9" height="8.4" rx="1.6" fill="#1ffd00"/>
<text class="sans" x="37.85" y="380.25" text-anchor="middle" font-size="5.9" textLength="8.8" lengthAdjust="spacingAndGlyphs" fill="#000" fill-opacity="0.72">101</text>
<rect x="47.10" y="364.15" width="13.9" height="8.4" rx="1.6" fill="#8adf00"/>
<text class="sans" x="54.05" y="370.65" text-anchor="middle" font-size="5.9" textLength="8.8" lengthAdjust="spacingAndGlyphs" fill="#000" fill-opacity="0.72">120</text>
<rect x="83.55" y="338.50" width="13.9" height="8.4" rx="1.6" fill="#ef6400"/>
<text class="sans" x="90.50" y="345.00" text-anchor="middle" font-size="5.9" textLength="8.8" lengthAdjust="spacingAndGlyphs" fill="#000" fill-opacity="0.72">182</text>
<rect x="128.10" y="345.85" width="13.9" height="8.4" rx="1.6" fill="#b2c200"/>
<text class="sans" x="135.05" y="352.35" text-anchor="middle" font-size="5.9" textLength="8.8" lengthAdjust="spacingAndGlyphs" fill="#000" fill-opacity="0.72">137</text>
<rect x="140.15" y="371.35" width="13.9" height="8.4" rx="1.6" fill="#41f900"/>
<text class="sans" x="147.10" y="377.85" text-anchor="middle" font-size="5.9" textLength="8.8" lengthAdjust="spacingAndGlyphs" fill="#000" fill-opacity="0.72">104</text>
<rect x="172.65" y="367.35" width="13.9" height="8.4" rx="1.6" fill="#41f900"/>
<text class="sans" x="179.60" y="373.85" text-anchor="middle" font-size="5.9" textLength="8.8" lengthAdjust="spacingAndGlyphs" fill="#000" fill-opacity="0.72">104</text>
<rect x="176.70" y="357.85" width="13.9" height="8.4" rx="1.6" fill="#a4ce00"/>
<text class="sans" x="183.65" y="364.35" text-anchor="middle" font-size="5.9" textLength="8.8" lengthAdjust="spacingAndGlyphs" fill="#000" fill-opacity="0.72">130</text>
<rect x="180.75" y="363.95" width="13.9" height="8.4" rx="1.6" fill="#81e400"/>
<text class="sans" x="187.70" y="370.45" text-anchor="middle" font-size="5.9" textLength="8.8" lengthAdjust="spacingAndGlyphs" fill="#000" fill-opacity="0.72">117</text>
<rect x="192.75" y="348.35" width="13.9" height="8.4" rx="1.6" fill="#cea300"/>
<text class="sans" x="199.70" y="354.85" text-anchor="middle" font-size="5.9" textLength="8.8" lengthAdjust="spacingAndGlyphs" fill="#000" fill-opacity="0.72">154</text>
<rect x="208.85" y="358.30" width="13.9" height="8.4" rx="1.6" fill="#b0c400"/>
<text class="sans" x="215.80" y="364.80" text-anchor="middle" font-size="5.9" textLength="8.8" lengthAdjust="spacingAndGlyphs" fill="#000" fill-opacity="0.72">136</text>
<rect x="217.15" y="345.35" width="13.9" height="8.4" rx="1.6" fill="#b2c200"/>
<text class="sans" x="224.10" y="351.85" text-anchor="middle" font-size="5.9" textLength="8.8" lengthAdjust="spacingAndGlyphs" fill="#000" fill-opacity="0.72">137</text>
<line x1="226.5" y1="359.5" x2="227.8" y2="365.2" stroke="#111" stroke-width="0.6"/>
<rect x="221.00" y="364.85" width="13.9" height="8.4" rx="1.6" fill="#a1d000"/>
<text class="sans" x="227.95" y="371.35" text-anchor="middle" font-size="5.9" textLength="8.8" lengthAdjust="spacingAndGlyphs" fill="#000" fill-opacity="0.72">129</text>
<line x1="218.5" y1="370.9" x2="219.5" y2="378" stroke="#111" stroke-width="0.6"/>
<rect x="212.90" y="377.75" width="13.9" height="8.4" rx="1.6" fill="#41f900"/>
<text class="sans" x="219.85" y="384.25" text-anchor="middle" font-size="5.9" textLength="8.8" lengthAdjust="spacingAndGlyphs" fill="#000" fill-opacity="0.72">104</text>
<rect x="318.40" y="351.85" width="13.9" height="8.4" rx="1.6" fill="#90dc00"/>
<text class="sans" x="325.35" y="358.35" text-anchor="middle" font-size="5.9" textLength="8.8" lengthAdjust="spacingAndGlyphs" fill="#000" fill-opacity="0.72">122</text>
<rect x="322.45" y="370.75" width="13.9" height="8.4" rx="1.6" fill="#41f900"/>
<text class="sans" x="329.40" y="377.25" text-anchor="middle" font-size="5.9" textLength="8.8" lengthAdjust="spacingAndGlyphs" fill="#000" fill-opacity="0.72">104</text>
<rect x="342.70" y="360.80" width="13.9" height="8.4" rx="1.6" fill="#7ae700"/>
<text class="sans" x="349.65" y="367.30" text-anchor="middle" font-size="5.9" textLength="8.8" lengthAdjust="spacingAndGlyphs" fill="#000" fill-opacity="0.72">115</text>
<rect x="354.90" y="358.15" width="13.9" height="8.4" rx="1.6" fill="#9ad500"/>
<text class="sans" x="361.85" y="364.65" text-anchor="middle" font-size="5.9" textLength="8.8" lengthAdjust="spacingAndGlyphs" fill="#000" fill-opacity="0.72">126</text>
<rect x="403.45" y="358.15" width="13.9" height="8.4" rx="1.6" fill="#60f100"/>
<text class="sans" x="410.40" y="364.65" text-anchor="middle" font-size="5.9" textLength="8.8" lengthAdjust="spacingAndGlyphs" fill="#000" fill-opacity="0.72">109</text>
<line x1="19.6" x2="19.6" y1="331.80" y2="430.60" stroke="#2b2b2b" stroke-width="0.9"/>
<line x1="17.700000000000003" x2="19.6" y1="417.10" y2="417.10" stroke="#333" stroke-width="0.5"/>
<text class="sans" x="16.900000000000002" y="418.45" text-anchor="end" font-size="4.1" fill="#3d3d3d">0</text>
<line x1="17.700000000000003" x2="19.6" y1="408.20" y2="408.20" stroke="#333" stroke-width="0.5"/>
<text class="sans" x="16.900000000000002" y="409.55" text-anchor="end" font-size="4.1" fill="#3d3d3d">20</text>
<line x1="17.700000000000003" x2="19.6" y1="399.30" y2="399.30" stroke="#333" stroke-width="0.5"/>
<text class="sans" x="16.900000000000002" y="400.65" text-anchor="end" font-size="4.1" fill="#3d3d3d">40</text>
<line x1="17.700000000000003" x2="19.6" y1="390.40" y2="390.40" stroke="#333" stroke-width="0.5"/>
<text class="sans" x="16.900000000000002" y="391.75" text-anchor="end" font-size="4.1" fill="#3d3d3d">60</text>
<line x1="17.700000000000003" x2="19.6" y1="381.50" y2="381.50" stroke="#333" stroke-width="0.5"/>
<text class="sans" x="16.900000000000002" y="382.85" text-anchor="end" font-size="4.1" fill="#3d3d3d">80</text>
<line x1="17.700000000000003" x2="19.6" y1="372.60" y2="372.60" stroke="#333" stroke-width="0.5"/>
<text class="sans" x="16.900000000000002" y="373.95" text-anchor="end" font-size="4.1" fill="#3d3d3d">100</text>
<line x1="17.700000000000003" x2="19.6" y1="363.70" y2="363.70" stroke="#333" stroke-width="0.5"/>
<text class="sans" x="16.900000000000002" y="365.05" text-anchor="end" font-size="4.1" fill="#3d3d3d">120</text>
<line x1="17.700000000000003" x2="19.6" y1="354.80" y2="354.80" stroke="#333" stroke-width="0.5"/>
<text class="sans" x="16.900000000000002" y="356.15" text-anchor="end" font-size="4.1" fill="#3d3d3d">140</text>
<line x1="17.700000000000003" x2="19.6" y1="345.90" y2="345.90" stroke="#333" stroke-width="0.5"/>
<text class="sans" x="16.900000000000002" y="347.25" text-anchor="end" font-size="4.1" fill="#3d3d3d">160</text>
<line x1="17.700000000000003" x2="19.6" y1="337.00" y2="337.00" stroke="#333" stroke-width="0.5"/>
<text class="sans" x="16.900000000000002" y="338.35" text-anchor="end" font-size="4.1" fill="#3d3d3d">180</text>
<rect x="583.1" y="332.10" width="9.6" height="98.20" fill="#add8e6" stroke="#ecd352" stroke-width="0.85"/>
<text class="sans" transform="translate(586.4 381.20) rotate(90)" text-anchor="middle" font-size="3.6" fill="#000">4</text>
</g>
<g>
<line x1="19.6" x2="582.7" y1="528.30" y2="528.30" stroke="#dcecf4" stroke-width="0.8"/>
<line x1="19.6" x2="582.7" y1="523.85" y2="523.85" stroke="#dcecf4" stroke-width="0.8"/>
<line x1="19.6" x2="582.7" y1="514.95" y2="514.95" stroke="#dcecf4" stroke-width="0.8"/>
<line x1="19.6" x2="582.7" y1="506.05" y2="506.05" stroke="#dcecf4" stroke-width="0.8"/>
<line x1="19.6" x2="582.7" y1="497.15" y2="497.15" stroke="#dcecf4" stroke-width="0.8"/>
<line x1="19.6" x2="582.7" y1="488.25" y2="488.25" stroke="#dcecf4" stroke-width="0.8"/>
<line x1="19.6" x2="582.7" y1="479.35" y2="479.35" stroke="#dcecf4" stroke-width="0.8"/>
<line x1="19.6" x2="582.7" y1="470.45" y2="470.45" stroke="#dcecf4" stroke-width="0.8"/>
<line x1="19.6" x2="582.7" y1="461.55" y2="461.55" stroke="#dcecf4" stroke-width="0.8"/>
<line x1="19.6" x2="582.7" y1="452.65" y2="452.65" stroke="#dcecf4" stroke-width="0.8"/>
<line x1="19.6" x2="582.7" y1="443.75" y2="443.75" stroke="#dcecf4" stroke-width="0.8"/>
<line x1="19.6" x2="582.7" y1="434.85" y2="434.85" stroke="#dcecf4" stroke-width="0.8"/>
<rect x="22.35" y="446.87" width="3.64" height="72.53" fill="#da9100"/>
<rect x="26.40" y="479.13" width="3.64" height="40.27" fill="#4deb45"/>
<rect x="30.44" y="457.54" width="3.64" height="61.86" fill="#b6bf00"/>
<rect x="34.49" y="485.13" width="3.64" height="34.27" fill="#6cce6d"/>
<rect x="38.53" y="474.45" width="3.64" height="44.95" fill="#1ffd00"/>
<rect x="42.58" y="502.04" width="3.64" height="17.36" fill="#7a7bba"/>
<rect x="46.63" y="453.98" width="3.64" height="65.42" fill="#c4b100"/>
<rect x="50.67" y="469.56" width="3.64" height="49.84" fill="#6eec00"/>
<rect x="54.72" y="481.13" width="3.64" height="38.27" fill="#5be154"/>
<rect x="58.76" y="503.82" width="3.64" height="15.58" fill="#7772c2"/>
<rect x="62.81" y="502.04" width="3.64" height="17.36" fill="#7a7bba"/>
<rect x="66.86" y="484.25" width="3.64" height="35.16" fill="#69d268"/>
<rect x="70.90" y="481.57" width="3.64" height="37.83" fill="#5ddf57"/>
<rect x="74.95" y="496.04" width="3.64" height="23.36" fill="#7d99a1"/>
<rect x="78.99" y="496.48" width="3.64" height="22.92" fill="#7d97a3"/>
<rect x="83.04" y="461.10" width="3.64" height="58.30" fill="#a6cd00"/>
<rect x="87.09" y="452.65" width="3.64" height="66.75" fill="#c9ab00"/>
<rect x="91.13" y="504.94" width="3.64" height="14.46" fill="#756cc6"/>
<rect x="95.18" y="512.50" width="3.64" height="6.90" fill="#5b43e4"/>
<rect x="99.22" y="513.39" width="3.64" height="6.01" fill="#563de8"/>
<rect x="103.27" y="486.69" width="3.64" height="32.71" fill="#71c675"/>
<rect x="119.45" y="494.26" width="3.64" height="25.14" fill="#7da299"/>
<rect x="123.50" y="513.39" width="3.64" height="6.01" fill="#563de8"/>
<rect x="127.55" y="491.36" width="3.64" height="28.04" fill="#7ab08c"/>
<rect x="131.59" y="470.89" width="3.64" height="48.51" fill="#60f100"/>
<rect x="135.64" y="500.26" width="3.64" height="19.14" fill="#7c84b3"/>
<rect x="139.68" y="509.16" width="3.64" height="10.23" fill="#6956d7"/>
<rect x="143.73" y="496.04" width="3.64" height="23.36" fill="#7d99a1"/>
<rect x="147.78" y="479.79" width="3.64" height="39.61" fill="#52e74a"/>
<rect x="151.82" y="484.47" width="3.64" height="34.93" fill="#6ad169"/>
<rect x="155.87" y="468.67" width="3.64" height="50.73" fill="#76e900"/>
<rect x="159.91" y="510.94" width="3.64" height="8.46" fill="#624cde"/>
<rect x="163.96" y="501.15" width="3.64" height="18.25" fill="#7b80b7"/>
<rect x="168.01" y="506.50" width="3.64" height="12.90" fill="#7164cc"/>
<rect x="172.05" y="496.26" width="3.64" height="23.14" fill="#7d98a2"/>
<rect x="176.10" y="492.03" width="3.64" height="27.37" fill="#7bac8f"/>
<rect x="180.14" y="493.81" width="3.64" height="25.59" fill="#7da497"/>
<rect x="184.19" y="487.80" width="3.64" height="31.59" fill="#74c17b"/>
<rect x="188.24" y="508.27" width="3.64" height="11.12" fill="#6c5bd3"/>
<rect x="192.28" y="481.80" width="3.64" height="37.60" fill="#5ede59"/>
<rect x="196.33" y="468.67" width="3.64" height="50.73" fill="#76e900"/>
<rect x="200.37" y="501.82" width="3.64" height="17.58" fill="#7a7cb9"/>
<rect x="204.42" y="497.15" width="3.64" height="22.25" fill="#7d93a6"/>
<rect x="208.47" y="480.91" width="3.64" height="38.49" fill="#59e253"/>
<rect x="212.51" y="466.00" width="3.64" height="53.40" fill="#8adf00"/>
<rect x="216.56" y="471.78" width="3.64" height="47.62" fill="#56f400"/>
<rect x="220.60" y="470.45" width="3.64" height="48.95" fill="#65ef00"/>
<rect x="224.65" y="473.12" width="3.64" height="46.28" fill="#41f900"/>
<rect x="228.70" y="473.56" width="3.64" height="45.84" fill="#38fa00"/>
<rect x="309.62" y="484.47" width="3.64" height="34.93" fill="#6ad169"/>
<rect x="313.66" y="509.61" width="3.64" height="9.79" fill="#6854d9"/>
<rect x="317.71" y="470.89" width="4.10" height="48.51" fill="#60f100"/>
<rect x="321.75" y="466.89" width="3.64" height="52.51" fill="#84e200"/>
<rect x="325.80" y="477.35" width="3.64" height="42.05" fill="#3cf334"/>
<rect x="329.85" y="489.58" width="3.64" height="29.82" fill="#78b884"/>
<rect x="333.89" y="503.82" width="3.64" height="15.58" fill="#7772c2"/>
<rect x="337.94" y="505.83" width="3.64" height="13.57" fill="#7368ca"/>
<rect x="341.98" y="483.13" width="3.64" height="36.27" fill="#65d761"/>
<rect x="346.03" y="482.02" width="3.64" height="37.38" fill="#5fdd5a"/>
<rect x="350.08" y="509.61" width="3.64" height="9.79" fill="#6854d9"/>
<rect x="354.12" y="461.10" width="3.64" height="58.30" fill="#a6cd00"/>
<rect x="358.17" y="468.22" width="3.64" height="51.18" fill="#7ae700"/>
<rect x="362.21" y="488.47" width="3.64" height="30.93" fill="#75bd7f"/>
<rect x="366.26" y="502.04" width="3.64" height="17.36" fill="#7a7bba"/>
<rect x="370.31" y="508.27" width="3.64" height="11.12" fill="#6c5bd3"/>
<rect x="374.35" y="496.93" width="3.64" height="22.47" fill="#7d95a5"/>
<rect x="378.40" y="483.58" width="3.64" height="35.82" fill="#67d564"/>
<rect x="382.44" y="484.47" width="3.64" height="34.93" fill="#6ad169"/>
<rect x="386.49" y="511.83" width="3.64" height="7.57" fill="#5e47e1"/>
<rect x="390.54" y="485.13" width="3.64" height="34.27" fill="#6cce6d"/>
<rect x="406.72" y="466.44" width="3.64" height="52.95" fill="#87e100"/>
<rect x="410.77" y="498.04" width="3.64" height="21.36" fill="#7d8faa"/>
<rect x="414.81" y="482.24" width="3.64" height="37.16" fill="#61dc5c"/>
<rect x="418.86" y="511.83" width="3.64" height="7.57" fill="#5e47e1"/>
<rect x="422.90" y="492.03" width="3.64" height="27.37" fill="#7bac8f"/>
<rect x="426.95" y="502.04" width="3.64" height="17.36" fill="#7a7bba"/>
<rect x="431.00" y="491.14" width="3.64" height="28.26" fill="#7ab18b"/>
<rect x="435.04" y="471.34" width="3.64" height="48.06" fill="#5bf200"/>
<rect x="439.09" y="470.45" width="3.64" height="48.95" fill="#65ef00"/>
<rect x="443.13" y="487.14" width="3.64" height="32.26" fill="#72c478"/>
<rect x="447.18" y="502.94" width="3.64" height="16.46" fill="#7977be"/>
<rect x="451.23" y="502.27" width="3.64" height="17.13" fill="#7a7abb"/>
<rect x="455.27" y="492.03" width="3.64" height="27.37" fill="#7bac8f"/>
<rect x="459.32" y="508.05" width="3.64" height="11.35" fill="#6d5cd3"/>
<rect x="467.41" y="514.28" width="3.64" height="5.12" fill="#5037eb"/>
<rect x="471.46" y="500.49" width="3.64" height="18.91" fill="#7c83b4"/>
<rect x="475.50" y="517.84" width="3.64" height="1.56" fill="#2d1af9"/>
<rect x="483.59" y="501.15" width="3.64" height="18.25" fill="#7b80b7"/>
<rect x="487.64" y="515.39" width="3.64" height="4.00" fill="#482fef"/>
<rect x="491.69" y="506.05" width="3.64" height="13.35" fill="#7267cb"/>
<rect x="495.73" y="462.88" width="3.64" height="56.52" fill="#9dd300"/>
<rect x="499.78" y="502.04" width="3.64" height="17.36" fill="#7a7bba"/>
<rect x="503.82" y="511.83" width="3.64" height="7.57" fill="#5e47e1"/>
<rect x="507.87" y="500.04" width="3.64" height="19.36" fill="#7c85b2"/>
<rect x="511.92" y="508.05" width="3.64" height="11.35" fill="#6d5cd3"/>
<rect x="515.96" y="487.36" width="3.64" height="32.04" fill="#73c379"/>
<rect x="520.01" y="486.02" width="3.64" height="33.38" fill="#6fc972"/>
<rect x="524.05" y="457.54" width="3.64" height="61.86" fill="#b6bf00"/>
<rect x="528.10" y="477.35" width="3.64" height="42.05" fill="#3cf334"/>
<rect x="532.15" y="502.04" width="3.64" height="17.36" fill="#7a7bba"/>
<rect x="536.19" y="510.94" width="3.64" height="8.46" fill="#624cde"/>
<rect x="540.24" y="508.94" width="3.64" height="10.46" fill="#6a57d6"/>
<rect x="544.28" y="483.58" width="3.64" height="35.82" fill="#67d564"/>
<rect x="548.33" y="464.22" width="3.64" height="55.18" fill="#95d800"/>
<rect x="552.38" y="498.93" width="3.64" height="20.47" fill="#7d8bae"/>
<rect x="556.42" y="474.45" width="3.64" height="44.95" fill="#1ffd00"/>
<rect x="560.47" y="490.47" width="3.64" height="28.93" fill="#79b488"/>
<rect x="564.51" y="514.50" width="3.64" height="4.90" fill="#4e36ec"/>
<line x1="19.6" x2="582.7" y1="474.70" y2="474.70" stroke="#4a52f5" stroke-width="0.9"/>
<line x1="19.6" x2="582.7" y1="519.40" y2="519.40" stroke="#303030" stroke-width="0.85"/>
<line x1="24.17" x2="105.09" y1="521.65" y2="521.65" stroke="#444" stroke-width="0.7"/>
<text class="sans" x="60.58" y="528.32" text-anchor="middle" font-size="4.8" fill="#1a1a1a" stroke="#1a1a1a" stroke-width="0.12">Q1</text>
<line x1="121.27" x2="230.52" y1="521.65" y2="521.65" stroke="#444" stroke-width="0.7"/>
<text class="sans" x="170.64" y="528.32" text-anchor="middle" font-size="4.8" fill="#1a1a1a" stroke="#1a1a1a" stroke-width="0.12">Q2</text>
<line x1="246.70" x2="295.25" y1="521.65" y2="521.65" stroke="#444" stroke-width="0.7"/>
<text class="sans" x="267.33" y="530.72" text-anchor="middle" font-size="4.8" fill="#1a1a1a" stroke="#1a1a1a" stroke-width="0.25">HT</text>
<line x1="311.44" x2="392.36" y1="521.65" y2="521.65" stroke="#444" stroke-width="0.7"/>
<text class="sans" x="355.94" y="528.32" text-anchor="middle" font-size="4.8" fill="#1a1a1a" stroke="#1a1a1a" stroke-width="0.12">Q3</text>
<line x1="408.54" x2="566.33" y1="521.65" y2="521.65" stroke="#444" stroke-width="0.7"/>
<text class="sans" x="489.86" y="528.32" text-anchor="middle" font-size="4.8" fill="#1a1a1a" stroke="#1a1a1a" stroke-width="0.12">Q4</text>
<rect x="22.05" y="446.85" width="13.9" height="8.4" rx="1.6" fill="#da9100"/>
<text class="sans" x="29.00" y="453.35" text-anchor="middle" font-size="5.9" textLength="8.8" lengthAdjust="spacingAndGlyphs" fill="#000" fill-opacity="0.72">163</text>
<rect x="26.85" y="459.75" width="13.9" height="8.4" rx="1.6" fill="#b6bf00"/>
<text class="sans" x="33.80" y="466.25" text-anchor="middle" font-size="5.9" textLength="8.8" lengthAdjust="spacingAndGlyphs" fill="#000" fill-opacity="0.72">139</text>
<rect x="34.95" y="470.75" width="13.9" height="8.4" rx="1.6" fill="#1ffd00"/>
<text class="sans" x="41.90" y="477.25" text-anchor="middle" font-size="5.9" textLength="8.8" lengthAdjust="spacingAndGlyphs" fill="#000" fill-opacity="0.72">101</text>
<rect x="42.85" y="443.10" width="13.9" height="8.4" rx="1.6" fill="#c4b100"/>
<text class="sans" x="49.80" y="449.60" text-anchor="middle" font-size="5.9" textLength="8.8" lengthAdjust="spacingAndGlyphs" fill="#000" fill-opacity="0.72">147</text>
<rect x="47.10" y="467.55" width="13.9" height="8.4" rx="1.6" fill="#6eec00"/>
<text class="sans" x="54.05" y="474.05" text-anchor="middle" font-size="5.9" textLength="8.8" lengthAdjust="spacingAndGlyphs" fill="#000" fill-opacity="0.72">112</text>
<rect x="79.15" y="454.60" width="13.9" height="8.4" rx="1.6" fill="#a6cd00"/>
<text class="sans" x="86.10" y="461.10" text-anchor="middle" font-size="5.9" textLength="8.8" lengthAdjust="spacingAndGlyphs" fill="#000" fill-opacity="0.72">131</text>
<rect x="83.55" y="450.65" width="13.9" height="8.4" rx="1.6" fill="#c9ab00"/>
<text class="sans" x="90.50" y="457.15" text-anchor="middle" font-size="5.9" textLength="8.8" lengthAdjust="spacingAndGlyphs" fill="#000" fill-opacity="0.72">150</text>
<rect x="127.90" y="472.95" width="13.9" height="8.4" rx="1.6" fill="#60f100"/>
<text class="sans" x="134.85" y="479.45" text-anchor="middle" font-size="5.9" textLength="8.8" lengthAdjust="spacingAndGlyphs" fill="#000" fill-opacity="0.72">109</text>
<rect x="152.25" y="470.95" width="13.9" height="8.4" rx="1.6" fill="#76e900"/>
<text class="sans" x="159.20" y="477.45" text-anchor="middle" font-size="5.9" textLength="8.8" lengthAdjust="spacingAndGlyphs" fill="#000" fill-opacity="0.72">114</text>
<rect x="192.90" y="458.10" width="13.9" height="8.4" rx="1.6" fill="#76e900"/>
<text class="sans" x="199.85" y="464.60" text-anchor="middle" font-size="5.9" textLength="8.8" lengthAdjust="spacingAndGlyphs" fill="#000" fill-opacity="0.72">114</text>
<line x1="215.8" y1="444.5" x2="214.5" y2="462.4" stroke="#111" stroke-width="0.6"/>
<rect x="209.05" y="436.45" width="13.9" height="8.4" rx="1.6" fill="#8adf00"/>
<text class="sans" x="216.00" y="442.95" text-anchor="middle" font-size="5.9" textLength="8.8" lengthAdjust="spacingAndGlyphs" fill="#000" fill-opacity="0.72">120</text>
<rect x="212.90" y="462.45" width="13.9" height="8.4" rx="1.6" fill="#56f400"/>
<text class="sans" x="219.85" y="468.95" text-anchor="middle" font-size="5.9" textLength="8.8" lengthAdjust="spacingAndGlyphs" fill="#000" fill-opacity="0.72">107</text>
<line x1="224" y1="458.2" x2="223.2" y2="465" stroke="#111" stroke-width="0.6"/>
<rect x="216.95" y="449.90" width="13.9" height="8.4" rx="1.6" fill="#65ef00"/>
<text class="sans" x="223.90" y="456.40" text-anchor="middle" font-size="5.9" textLength="8.8" lengthAdjust="spacingAndGlyphs" fill="#000" fill-opacity="0.72">110</text>
<rect x="221.00" y="466.85" width="13.9" height="8.4" rx="1.6" fill="#41f900"/>
<text class="sans" x="227.95" y="473.35" text-anchor="middle" font-size="5.9" textLength="8.8" lengthAdjust="spacingAndGlyphs" fill="#000" fill-opacity="0.72">104</text>
<line x1="230.9" y1="474.4" x2="231.6" y2="479.9" stroke="#111" stroke-width="0.6"/>
<rect x="225.05" y="479.75" width="13.9" height="8.4" rx="1.6" fill="#38fa00"/>
<text class="sans" x="232.00" y="486.25" text-anchor="middle" font-size="5.9" textLength="8.8" lengthAdjust="spacingAndGlyphs" fill="#000" fill-opacity="0.72">103</text>
<rect x="314.35" y="470.55" width="13.9" height="8.4" rx="1.6" fill="#60f100"/>
<text class="sans" x="321.30" y="477.05" text-anchor="middle" font-size="5.9" textLength="8.8" lengthAdjust="spacingAndGlyphs" fill="#000" fill-opacity="0.72">109</text>
<rect x="318.40" y="464.25" width="13.9" height="8.4" rx="1.6" fill="#84e200"/>
<text class="sans" x="325.35" y="470.75" text-anchor="middle" font-size="5.9" textLength="8.8" lengthAdjust="spacingAndGlyphs" fill="#000" fill-opacity="0.72">118</text>
<rect x="350.80" y="460.40" width="13.9" height="8.4" rx="1.6" fill="#a6cd00"/>
<text class="sans" x="357.75" y="466.90" text-anchor="middle" font-size="5.9" textLength="8.8" lengthAdjust="spacingAndGlyphs" fill="#000" fill-opacity="0.72">131</text>
<line x1="360.5" y1="468.5" x2="361.5" y2="473.6" stroke="#111" stroke-width="0.6"/>
<rect x="354.90" y="473.45" width="13.9" height="8.4" rx="1.6" fill="#7ae700"/>
<text class="sans" x="361.85" y="479.95" text-anchor="middle" font-size="5.9" textLength="8.8" lengthAdjust="spacingAndGlyphs" fill="#000" fill-opacity="0.72">115</text>
<rect x="403.25" y="455.75" width="13.9" height="8.4" rx="1.6" fill="#87e100"/>
<text class="sans" x="410.20" y="462.25" text-anchor="middle" font-size="5.9" textLength="8.8" lengthAdjust="spacingAndGlyphs" fill="#000" fill-opacity="0.72">119</text>
<rect x="431.65" y="473.85" width="13.9" height="8.4" rx="1.6" fill="#5bf200"/>
<text class="sans" x="438.60" y="480.35" text-anchor="middle" font-size="5.9" textLength="8.8" lengthAdjust="spacingAndGlyphs" fill="#000" fill-opacity="0.72">108</text>
<rect x="435.70" y="459.85" width="13.9" height="8.4" rx="1.6" fill="#65ef00"/>
<text class="sans" x="442.65" y="466.35" text-anchor="middle" font-size="5.9" textLength="8.8" lengthAdjust="spacingAndGlyphs" fill="#000" fill-opacity="0.72">110</text>
<rect x="492.40" y="465.35" width="13.9" height="8.4" rx="1.6" fill="#9dd300"/>
<text class="sans" x="499.35" y="471.85" text-anchor="middle" font-size="5.9" textLength="8.8" lengthAdjust="spacingAndGlyphs" fill="#000" fill-opacity="0.72">127</text>
<rect x="520.95" y="447.05" width="13.9" height="8.4" rx="1.6" fill="#b6bf00"/>
<text class="sans" x="527.90" y="453.55" text-anchor="middle" font-size="5.9" textLength="8.8" lengthAdjust="spacingAndGlyphs" fill="#000" fill-opacity="0.72">139</text>
<line x1="552" y1="459.4" x2="550.7" y2="463.7" stroke="#111" stroke-width="0.6"/>
<rect x="545.25" y="451.10" width="13.9" height="8.4" rx="1.6" fill="#95d800"/>
<text class="sans" x="552.20" y="457.60" text-anchor="middle" font-size="5.9" textLength="8.8" lengthAdjust="spacingAndGlyphs" fill="#000" fill-opacity="0.72">124</text>
<rect x="553.20" y="463.95" width="13.9" height="8.4" rx="1.6" fill="#1ffd00"/>
<text class="sans" x="560.15" y="470.45" text-anchor="middle" font-size="5.9" textLength="8.8" lengthAdjust="spacingAndGlyphs" fill="#000" fill-opacity="0.72">101</text>
<line x1="19.6" x2="19.6" y1="434.10" y2="532.90" stroke="#2b2b2b" stroke-width="0.9"/>
<line x1="17.700000000000003" x2="19.6" y1="519.40" y2="519.40" stroke="#333" stroke-width="0.5"/>
<text class="sans" x="16.900000000000002" y="520.75" text-anchor="end" font-size="4.1" fill="#3d3d3d">0</text>
<line x1="17.700000000000003" x2="19.6" y1="510.50" y2="510.50" stroke="#333" stroke-width="0.5"/>
<text class="sans" x="16.900000000000002" y="511.85" text-anchor="end" font-size="4.1" fill="#3d3d3d">20</text>
<line x1="17.700000000000003" x2="19.6" y1="501.60" y2="501.60" stroke="#333" stroke-width="0.5"/>
<text class="sans" x="16.900000000000002" y="502.95" text-anchor="end" font-size="4.1" fill="#3d3d3d">40</text>
<line x1="17.700000000000003" x2="19.6" y1="492.70" y2="492.70" stroke="#333" stroke-width="0.5"/>
<text class="sans" x="16.900000000000002" y="494.05" text-anchor="end" font-size="4.1" fill="#3d3d3d">60</text>
<line x1="17.700000000000003" x2="19.6" y1="483.80" y2="483.80" stroke="#333" stroke-width="0.5"/>
<text class="sans" x="16.900000000000002" y="485.15" text-anchor="end" font-size="4.1" fill="#3d3d3d">80</text>
<line x1="17.700000000000003" x2="19.6" y1="474.90" y2="474.90" stroke="#333" stroke-width="0.5"/>
<text class="sans" x="16.900000000000002" y="476.25" text-anchor="end" font-size="4.1" fill="#3d3d3d">100</text>
<line x1="17.700000000000003" x2="19.6" y1="466.00" y2="466.00" stroke="#333" stroke-width="0.5"/>
<text class="sans" x="16.900000000000002" y="467.35" text-anchor="end" font-size="4.1" fill="#3d3d3d">120</text>
<line x1="17.700000000000003" x2="19.6" y1="457.10" y2="457.10" stroke="#333" stroke-width="0.5"/>
<text class="sans" x="16.900000000000002" y="458.45" text-anchor="end" font-size="4.1" fill="#3d3d3d">140</text>
<line x1="17.700000000000003" x2="19.6" y1="448.20" y2="448.20" stroke="#333" stroke-width="0.5"/>
<text class="sans" x="16.900000000000002" y="449.55" text-anchor="end" font-size="4.1" fill="#3d3d3d">160</text>
<line x1="17.700000000000003" x2="19.6" y1="439.30" y2="439.30" stroke="#333" stroke-width="0.5"/>
<text class="sans" x="16.900000000000002" y="440.65" text-anchor="end" font-size="4.1" fill="#3d3d3d">180</text>
<rect x="583.1" y="434.40" width="9.6" height="98.20" fill="#add8e6" stroke="#ecd352" stroke-width="0.85"/>
<text class="sans" transform="translate(586.4 483.50) rotate(90)" text-anchor="middle" font-size="3.6" fill="#000">5</text>
</g>
<text class="sans" x="603.1" y="236.8" font-size="4.9" font-weight="bold" fill="#8b1a1a">linetype</text>
<rect x="603.1" y="241.2" width="9.6" height="9.1" fill="#ededed"/>
<line x1="604.1" x2="611.8" y1="245.7" y2="245.7" stroke="#2a35f0" stroke-width="0.75"/>
<text class="sans" x="616.3" y="247.6" font-size="5.4" fill="#222">100M/Min</text>
<text class="sans" x="603.1" y="269" font-size="4.9" font-weight="bold" fill="#8b1a1a">Meters Per Min</text>
<defs><linearGradient id="cb" x1="0" y1="0" x2="0" y2="1"><stop offset="0.0000" stop-color="#f45500"/><stop offset="0.0417" stop-color="#ec6c00"/><stop offset="0.0833" stop-color="#e48000"/><stop offset="0.1250" stop-color="#db9100"/><stop offset="0.1667" stop-color="#d0a100"/><stop offset="0.2083" stop-color="#c4b000"/><stop offset="0.2500" stop-color="#b7be00"/><stop offset="0.2917" stop-color="#a7cc00"/><stop offset="0.3333" stop-color="#94d900"/><stop offset="0.3750" stop-color="#7ce600"/><stop offset="0.4167" stop-color="#59f300"/><stop offset="0.4583" stop-color="#0afe07"/><stop offset="0.5000" stop-color="#49ed40"/><stop offset="0.5417" stop-color="#60dc5b"/><stop offset="0.5833" stop-color="#6ecb70"/><stop offset="0.6250" stop-color="#77ba82"/><stop offset="0.6667" stop-color="#7ca993"/><stop offset="0.7083" stop-color="#7d98a2"/><stop offset="0.7500" stop-color="#7c86b1"/><stop offset="0.7917" stop-color="#7875c0"/><stop offset="0.8333" stop-color="#7062ce"/><stop offset="0.8750" stop-color="#644fdc"/><stop offset="0.9167" stop-color="#523aea"/><stop offset="0.9583" stop-color="#321ef7"/><stop offset="1.0000" stop-color="#0000ff"/></linearGradient></defs>
<rect x="603.1" y="272.2" width="10" height="52.6" fill="url(#cb)"/>
<text class="sans" x="616.3" y="284.25" font-size="5.4" fill="#222">150</text>
<line x1="603.1" x2="605.1" y1="282.3" y2="282.3" stroke="#fff" stroke-opacity="0.6" stroke-width="0.3"/>
<line x1="611.1" x2="613.1" y1="282.3" y2="282.3" stroke="#fff" stroke-opacity="0.6" stroke-width="0.3"/>
<text class="sans" x="616.3" y="297.95" font-size="5.4" fill="#222">100</text>
<line x1="603.1" x2="605.1" y1="296.0" y2="296.0" stroke="#fff" stroke-opacity="0.6" stroke-width="0.3"/>
<line x1="611.1" x2="613.1" y1="296.0" y2="296.0" stroke="#fff" stroke-opacity="0.6" stroke-width="0.3"/>
<text class="sans" x="616.3" y="311.75" font-size="5.4" fill="#222">50</text>
<line x1="603.1" x2="605.1" y1="309.8" y2="309.8" stroke="#fff" stroke-opacity="0.6" stroke-width="0.3"/>
<line x1="611.1" x2="613.1" y1="309.8" y2="309.8" stroke="#fff" stroke-opacity="0.6" stroke-width="0.3"/>
<text class="sans" x="616.3" y="325.75" font-size="5.4" fill="#222">0</text>
<line x1="603.1" x2="605.1" y1="323.8" y2="323.8" stroke="#fff" stroke-opacity="0.6" stroke-width="0.3"/>
<line x1="611.1" x2="613.1" y1="323.8" y2="323.8" stroke="#fff" stroke-opacity="0.6" stroke-width="0.3"/>
</svg></body></html>
